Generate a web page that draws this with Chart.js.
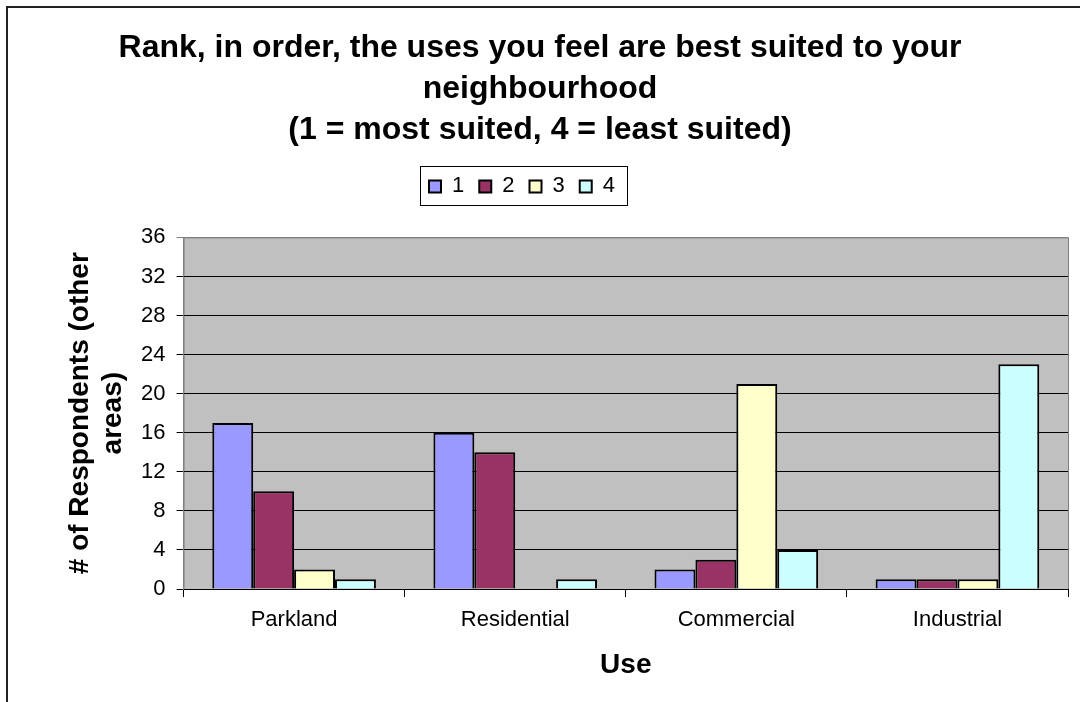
<!DOCTYPE html>
<html>
<head>
<meta charset="utf-8">
<script src="https://cdn.jsdelivr.net/npm/chart.js@4.4.1/dist/chart.umd.min.js"></script>
<style>
  html, body { margin: 0; padding: 0; background: #fff; }
  #wrap { position: relative; width: 1080px; height: 702px; overflow: hidden; }
</style>
</head>
<body>
<div id="wrap"><canvas id="rankChart" width="1080" height="702"></canvas></div>
<script>
// Data
const categories = ['Parkland', 'Residential', 'Commercial', 'Industrial'];
const rankLabels = ['1', '2', '3', '4'];
const rank1 = [17, 16, 2, 1];
const rank2 = [10, 14, 3, 1];
const rank3 = [2, 0, 21, 1];
const rank4 = [1, 1, 4, 23];
const rankColors = ['#9999FF', '#993366', '#FFFFCC', '#CCFFFF'];

const FONT = "'Liberation Sans', Arial, sans-serif";

// grey plot area plus the outer chart frame
const plotBackground = {
    id: 'plotBackground',
    beforeDraw(chart) {
        const { ctx, chartArea: a } = chart;
        ctx.save();
        ctx.fillStyle = '#C0C0C0';
        ctx.fillRect(a.left, a.top, a.right - a.left, a.bottom - a.top);
        ctx.strokeStyle = '#808080';
        ctx.lineWidth = 1;
        ctx.strokeRect(a.left + 0.5, a.top + 0.5, a.right - a.left, a.bottom - a.top);
        // outer frame (only left and top edges are visible in the crop)
        ctx.strokeStyle = '#222';
        ctx.lineWidth = 2;
        ctx.beginPath();
        ctx.moveTo(7, 702);
        ctx.lineTo(7, 7);
        ctx.lineTo(1080, 7);
        ctx.stroke();
        ctx.restore();
    }
};

// box around the legend items
const legendBox = {
    id: 'legendBox',
    afterDraw(chart) {
        const boxes = chart.legend && chart.legend.legendHitBoxes;
        if (!boxes || !boxes.length) return;
        const first = boxes[0];
        const last = boxes[boxes.length - 1];
        const ctx = chart.ctx;
        const cy = first.top + first.height / 2;
        const x0 = Math.round(first.left - 9) + 0.5;
        const x1 = Math.round(last.left + last.width + 12) + 0.5;
        const y0 = Math.round(cy - 20) + 0.5;
        const y1 = Math.round(cy + 19) + 0.5;
        ctx.save();
        ctx.strokeStyle = '#000';
        ctx.lineWidth = 1;
        ctx.strokeRect(x0, y0, x1 - x0, y1 - y0);
        ctx.restore();
    }
};

// extra room between legend and plot; legend and title sit a bit left of centre
const legendMargin = {
    id: 'legendMargin',
    beforeInit(chart) {
        const fit = chart.legend.fit;
        chart.legend.fit = function () {
            fit.bind(chart.legend)();
            this.height += 30;
        };
    },
    afterUpdate(chart) {
        const legend = chart.legend;
        legend.left -= 30;
        legend.right -= 30;
        legend.legendHitBoxes.forEach(b => { b.left -= 30; });
        const title = chart.titleBlock;
        title.left -= 12;
        title.right -= 12;
    }
};

const seriesData = [rank1, rank2, rank3, rank4];

new Chart(document.getElementById('rankChart').getContext('2d'), {
    type: 'bar',
    data: {
        labels: categories,
        datasets: rankLabels.map((lbl, i) => ({
            label: lbl,
            data: seriesData[i],
            backgroundColor: rankColors[i],
            borderColor: '#000',
            borderWidth: 2,
            categoryPercentage: 0.74,
            barPercentage: 1
        }))
    },
    options: {
        responsive: false,
        devicePixelRatio: 1,
        animation: false,
        layout: { padding: { top: 20, left: 36, right: 12, bottom: 12 } },
        plugins: {
            title: {
                display: true,
                text: ['Rank, in order, the uses you feel are best suited to your', 'neighbourhood', '(1 = most suited, 4 = least suited)'],
                color: '#000',
                font: { family: FONT, size: 32, weight: 'bold', lineHeight: 1.28 },
                padding: { top: 7.5, bottom: 10 }
            },
            legend: {
                display: true,
                labels: {
                    color: '#000',
                    font: { family: FONT, size: 22 },
                    boxWidth: 12,
                    boxHeight: 12,
                    padding: 15,
                    generateLabels(chart) {
                        return chart.data.datasets.map((ds, i) => ({
                            text: ds.label,
                            fillStyle: ds.backgroundColor,
                            strokeStyle: '#000',
                            lineWidth: 2,
                            datasetIndex: i,
                            fontColor: '#000'
                        }));
                    }
                }
            },
            tooltip: { enabled: false }
        },
        scales: {
            x: {
                grid: {
                    drawOnChartArea: false,
                    drawTicks: true,
                    tickLength: 8,
                    color: '#000'
                },
                border: { display: true, color: '#000', width: 1 },
                ticks: { color: '#000', font: { family: FONT, size: 22 }, padding: 10 },
                title: {
                    display: true,
                    text: 'Use',
                    color: '#000',
                    font: { family: FONT, size: 28, weight: 'bold', lineHeight: 1.2 },
                    padding: { top: 5, bottom: 8 }
                }
            },
            y: {
                min: 0,
                max: 36,
                grid: {
                    color: ctx => (ctx.tick && ctx.tick.value === 36 ? '#808080' : '#000'),
                    drawTicks: true,
                    tickLength: 7,
                    lineWidth: 1
                },
                border: { display: true, color: '#808080', width: 1 },
                ticks: {
                    stepSize: 4,
                    color: '#000',
                    font: { family: FONT, size: 22 },
                    padding: 11
                },
                title: {
                    display: true,
                    text: ['# of Respondents (other', 'areas)'],
                    color: '#000',
                    font: { family: FONT, size: 28, weight: 'bold', lineHeight: 1.18 },
                    padding: { top: 28, bottom: 0 }
                }
            }
        }
    },
    plugins: [plotBackground, legendBox, legendMargin]
});
</script>
</body>
</html>
